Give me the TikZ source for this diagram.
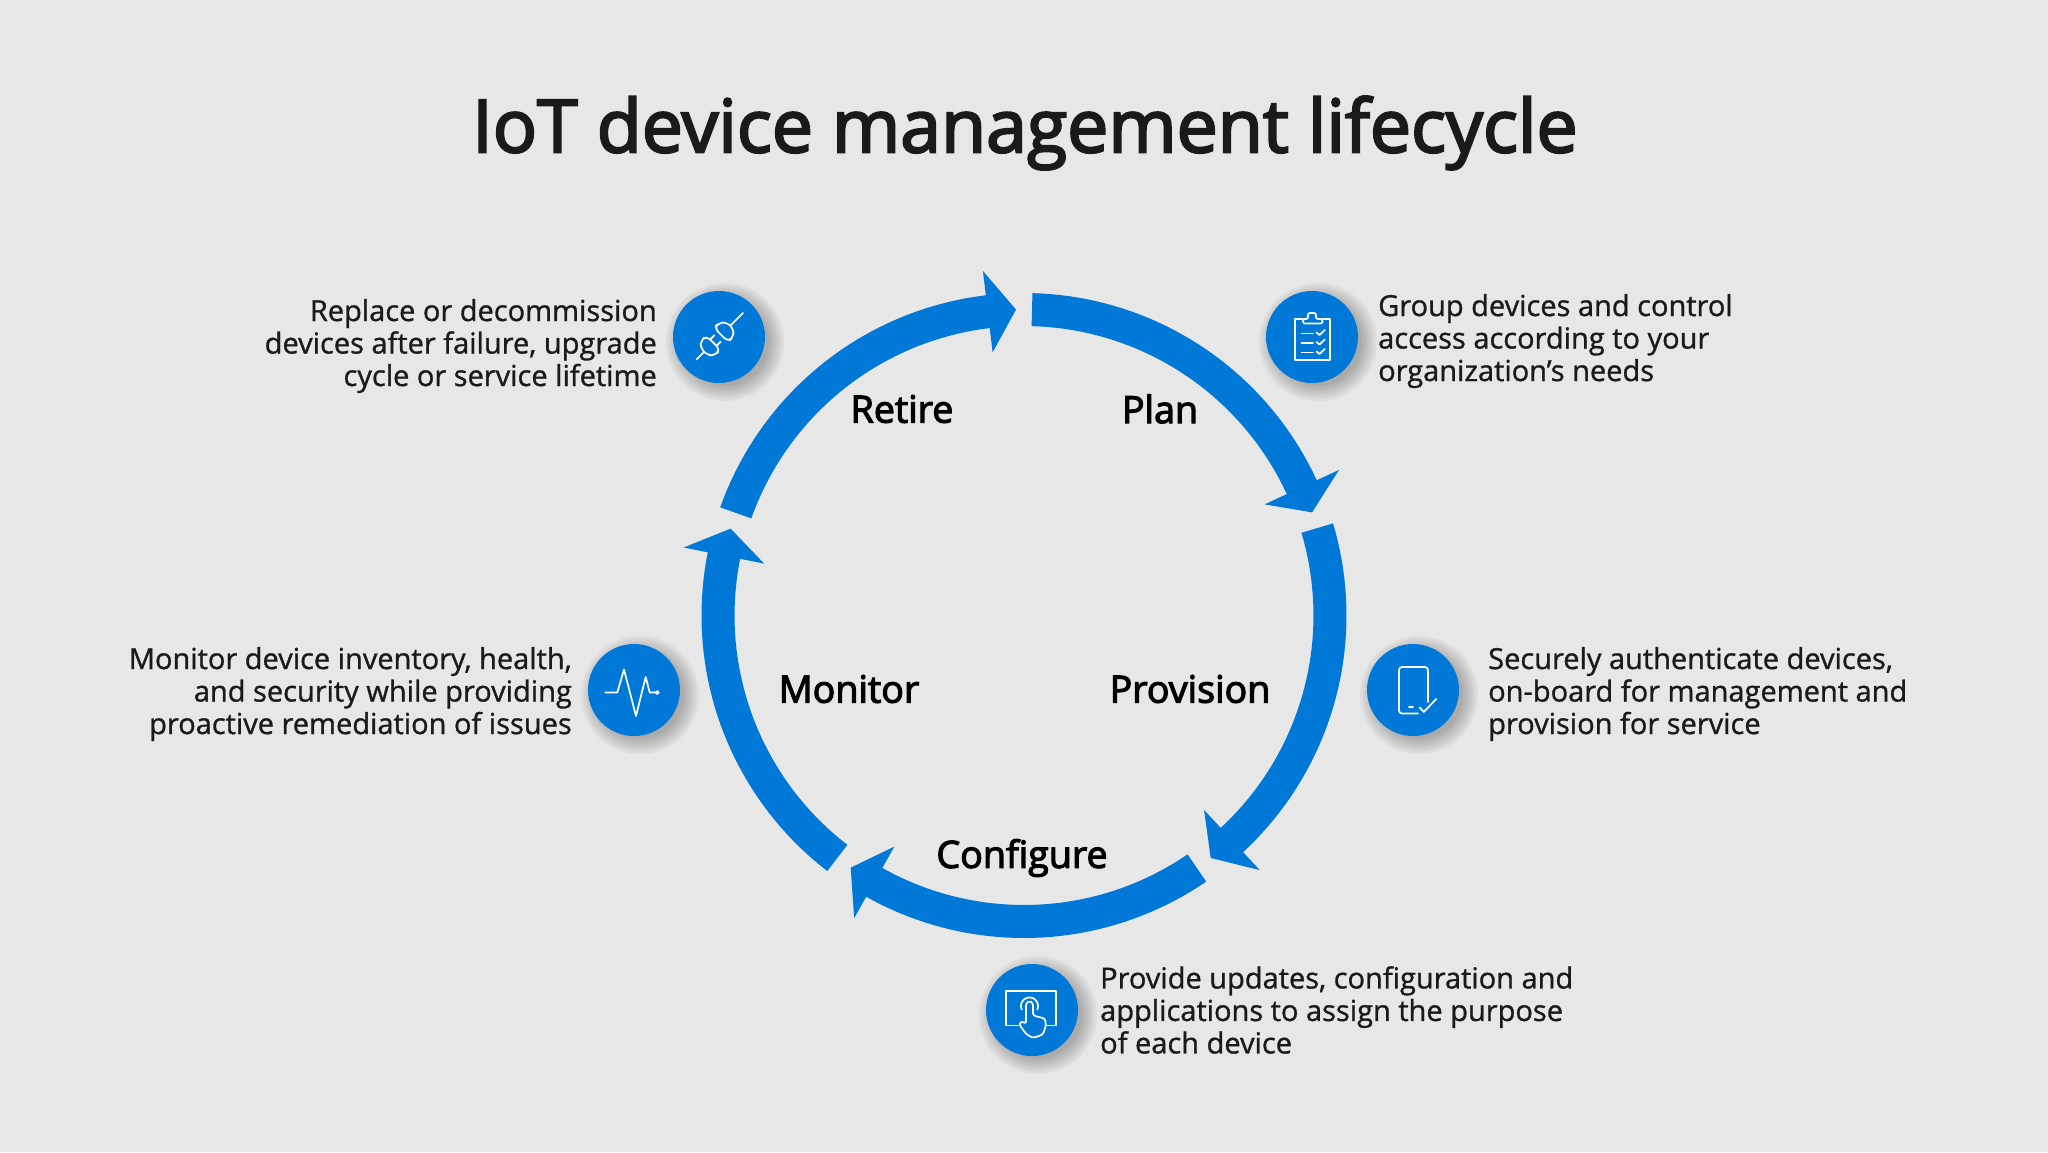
\documentclass[tikz,border=0pt]{standalone}
\usepackage{fontspec}
\setmainfont[FakeBold=1]{Open Sans}
\newfontfamily\semifont[FakeBold=3]{Open Sans}
\definecolor{cycleblue}{RGB}{0,120,215}
\definecolor{pagegray}{RGB}{231,231,232}
\definecolor{inkblack}{RGB}{26,26,26}

% One arrow of the ring: start angle, neck angle, tip angle
\newcommand{\ringarrow}[3]{%
  \fill[cycleblue]
    plot[domain=#1:#2,samples=40] ({1024+322.5*cos(\x)},{615.5+322.5*sin(\x)})
    -- ({1024+347*cos(#2)},{615.5+347*sin(#2)})
    -- ({1024+306*cos(#3)},{615.5+306*sin(#3)})
    -- ({1024+265*cos(#2)},{615.5+265*sin(#2)})
    -- plot[domain=#2:#1,samples=40] ({1024+289.5*cos(\x)},{615.5+289.5*sin(\x)})
    -- cycle;
}
% Soft shadow under an icon
\newcommand{\iconshadow}[2]{%
  \foreach \r in {44,46.5,49,51.5,54,56.5,59} {
    \fill[black,opacity=0.04] (#1+6,#2+5) circle[radius=\r pt];
  }
}

\begin{document}
\begin{tikzpicture}[x=1pt,y=-1pt,
    iconcircle/.style={circle,fill=cycleblue,minimum size=92pt,inner sep=0pt},
    iconline/.style={draw=white,line width=1.7pt,line cap=round,line join=round},
    steplabel/.style={text=black,font=\semifont\fontsize{37.6}{44}\selectfont},
    lefttext/.style={anchor=east,align=right,text=inkblack,inner sep=0pt,font=\fontsize{29}{32.5}\selectfont},
    righttext/.style={anchor=west,align=left,text=inkblack,inner sep=0pt,font=\fontsize{29}{32.5}\selectfont}]

    % Define the page
    \useasboundingbox (0,0) rectangle (2048,1152);
    \fill[pagegray] (0,0) rectangle (2048,1152);

    % Title
    \node[text=inkblack,font=\semifont\fontsize{73.4}{80}\selectfont] (title) at (1025,133) {IoT device management lifecycle};

    % Draw the ring arrows
    \ringarrow{-88.5}{-24.8}{-19.7}
    \ringarrow{-16.6}{47.2}{52.4}
    \ringarrow{55.6}{119.3}{124.5}
    \ringarrow{127.6}{191.3}{196.5}
    \ringarrow{199.6}{263.2}{268.5}

    % Step names inside the ring
    \node[steplabel] (plan) at (1160,409) {Plan};
    \node[steplabel] (provision) at (1190,689) {Provision};
    \node[steplabel] (configure) at (1022,858) {Configure};
    \node[steplabel] (monitor) at (849,689) {Monitor};
    \node[steplabel] (retire) at (902,409) {Retire};

    % Shadows, then the icon discs
    \iconshadow{719}{337}
    \iconshadow{1312}{337}
    \iconshadow{634}{690}
    \iconshadow{1413}{690}
    \iconshadow{1032}{1010}
    \node[iconcircle] (retireicon) at (719,337) {};
    \node[iconcircle] (planicon) at (1312,337) {};
    \node[iconcircle] (monitoricon) at (634,690) {};
    \node[iconcircle] (provisionicon) at (1413,690) {};
    \node[iconcircle] (configureicon) at (1032,1010) {};

    % Plug and socket
    \begin{scope}[shift={(retireicon.center)},rotate=45]
      \draw[iconline] (-32,0) -- (-21,0);
      \draw[iconline,rounded corners=5pt] (-8,-10) -- (-16,-10) -- (-21,-5) -- (-21,5) -- (-16,10) -- (-8,10) -- cycle;
      \draw[iconline] (-8,-4.5) -- (-2,-4.5) (-8,4.5) -- (-2,4.5);
      \draw[iconline,rounded corners=5pt] (3,-10) -- (10,-10) -- (16,-5) -- (16,5) -- (10,10) -- (3,10) -- cycle;
      \draw[iconline] (16,0) -- (34,0);
    \end{scope}

    % Clipboard with ticks
    \begin{scope}[shift={(planicon.center)}]
      \draw[iconline] (-9,-18) -- (-17,-18) -- (-17,23) -- (18,23) -- (18,-18) -- (10.5,-18);
      \draw[iconline,rounded corners=2pt] (-9,-18) -- (-9,-13.5) -- (10.5,-13.5) -- (10.5,-18) -- (4,-18) -- (4,-24) -- (-4,-24) -- (-4,-18) -- cycle;
      \foreach \y in {0,9.5,19} {
        \draw[iconline] (-10.5,-3.5+\y) -- (1,-3.5+\y);
        \draw[iconline] (4.5,-4.5+\y) -- (7.5,-2+\y) -- (12.8,-7+\y);
      }
    \end{scope}

    % Pulse line
    \begin{scope}[shift={(monitoricon.center)}]
      \draw[iconline] (-28.7,2.5) -- (-16.7,2.5) -- (-10,-20.5) -- (2,26) -- (11.7,-13) -- (15.7,2.5) -- (23.3,2.5);
      \fill[white] (23.3,2.5) circle[radius=2.2pt];
    \end{scope}

    % Phone with tick
    \begin{scope}[shift={(provisionicon.center)}]
      \draw[iconline,rounded corners=3pt] (15,12) -- (15,-23) -- (-14,-23) -- (-14,23.5) -- (5,23.5);
      \draw[iconline] (-4,17) -- (0,17);
      \draw[iconline] (6.7,17.5) -- (10.7,22) -- (23.3,9);
    \end{scope}

    % Hand touching a screen
    \begin{scope}[shift={(configureicon.center)}]
      \draw[iconline] (-14,15.5) -- (-25.7,15.5) -- (-25.7,-18.8) -- (24.3,-18.8) -- (24.3,15.5) -- (15,15.5);
      \draw[iconline] plot[domain=25:-205,samples=30] ({-2.5+8.5*cos(\x)},{-4+8.5*sin(\x)});
      \draw[iconline,rounded corners=2.5pt] (-6,14) -- (-6,-7) -- (-2.5,-9) -- (1,-7) -- (1,5.5) -- (13,8.5) -- (14,15) -- (11,24.5) -- (1,28) -- (-6,24) -- (-13,14) -- (-10,11) -- cycle;
    \end{scope}

    % Descriptions beside the icons
    \node[lefttext] (retiretext) at (657,346) {Replace or decommission\\devices after failure, upgrade\\cycle or service lifetime};
    \node[righttext] (plantext) at (1378,341) {Group devices and control\\access according to your\\organization\char39 s needs};
    \node[lefttext] (monitortext) at (572,694) {Monitor device inventory, health,\\and security while providing\\proactive remediation of issues};
    \node[righttext] (provisiontext) at (1488,694) {Securely authenticate devices,\\on-board for management and\\provision for service};
    \node[righttext] (configuretext) at (1100,1010) {Provide updates, configuration and\\applications to assign the purpose\\of each device};

\end{tikzpicture}
\end{document}
